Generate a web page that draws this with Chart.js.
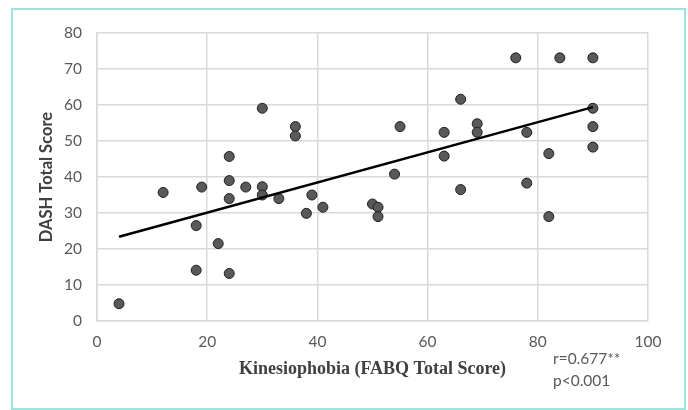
<!DOCTYPE html>
<html>
<head>
<meta charset="utf-8">
<script src="https://cdn.jsdelivr.net/npm/chart.js@4"></script>
<style>
  html, body { margin: 0; padding: 0; background: #fff; }
  #wrap { position: relative; width: 688px; height: 410px; }
  #frame {
    position: absolute; left: 11px; top: 8px; width: 671px; height: 398px;
    border: 2px solid #9fe3e0; border-bottom-width: 4px; pointer-events: none;
  }
  #stats {
    position: absolute; left: 553px; top: 347px;
    font: 15.5px Lato, "Liberation Sans", sans-serif; color: #595959; line-height: 22px;
  }
</style>
</head>
<body>
<div id="wrap">
  <canvas id="chart" width="688" height="410"></canvas>
  <div id="frame"></div>
  <div id="stats">r=0.677**<br>p&lt;0.001</div>
</div>
<script>
// FABQ (x) vs DASH (y)
const fabq = [4, 12, 18, 18, 19, 22, 24, 24, 24, 24, 27, 30, 30, 30, 33, 36, 36, 38, 39, 41,
              50, 51, 51, 54, 55, 63, 63, 66, 66, 69, 69, 76, 78, 78, 82, 82, 84, 90, 90, 90, 90];
const dash = [4.8, 35.7, 26.5, 14.1, 37.2, 21.5, 45.7, 39, 34, 13.2, 37.2, 59.1, 37.3, 35, 34, 54, 51.4, 29.9, 35, 31.6,
              32.5, 31.6, 29, 40.8, 54, 52.4, 45.8, 61.6, 36.5, 54.8, 52.4, 73.1, 52.4, 38.3, 46.5, 29, 73.1, 73.1, 59.1, 54, 48.3];
// linear trend line end points
const trendX = [4, 90];
const trendY = [23.4, 59.4];

const xTicks = [0, 20, 40, 60, 80, 100];
const yTicks = [0, 10, 20, 30, 40, 50, 60, 70, 80];

const tickFont = { family: 'Lato, "Liberation Sans", sans-serif', size: 15.5 };

new Chart(document.getElementById('chart'), {
    type: 'scatter',
    data: {
        datasets: [{
            label: 'Trend',
            type: 'line',
            data: trendX.map((x, i) => ({ x: x, y: trendY[i] })),
            borderColor: '#000',
            borderWidth: 2.5,
            pointRadius: 0,
            fill: false,
            order: 0
        }, {
            label: 'Patients',
            data: fabq.map((x, i) => ({ x: x, y: dash[i] })),
            backgroundColor: '#595959',
            borderColor: '#1f1f1f',
            borderWidth: 1,
            pointRadius: 5,
            order: 1
        }]
    },
    options: {
        responsive: false,
        animation: false,
        layout: { padding: { left: 0, right: 40, top: 33, bottom: 0 } },
        plugins: { legend: { display: false }, tooltip: { enabled: false } },
        scales: {
            x: {
                type: 'linear', min: 0, max: 100,
                afterBuildTicks: s => { s.ticks = xTicks.map(v => ({ value: v })); },
                afterFit: s => { s.height = 89; },
                grid: { color: '#d9d9d9', lineWidth: 1.5, drawTicks: false },
                border: { color: '#d9d9d9', width: 1.5 },
                ticks: { color: '#595959', font: tickFont, padding: 12, maxRotation: 0 },
                title: {
                    display: true,
                    text: 'Kinesiophobia (FABQ Total Score)',
                    color: '#404040',
                    font: { family: '"Liberation Serif", "Times New Roman", serif', size: 18, weight: 'bold' },
                    padding: { top: 0, bottom: 30 }
                }
            },
            y: {
                type: 'linear', min: 0, max: 80,
                afterBuildTicks: s => { s.ticks = yTicks.map(v => ({ value: v })); },
                afterFit: s => { s.width = 97; },
                grid: { color: '#d9d9d9', lineWidth: 1.5, drawTicks: false },
                border: { color: '#d9d9d9', width: 1.5 },
                ticks: { color: '#595959', font: tickFont, padding: 15 },
                title: {
                    display: true,
                    text: 'DASH Total Score',
                    color: '#404040',
                    font: { family: 'Lato, "Liberation Sans", sans-serif', size: 16.5, weight: 'bold' },
                    padding: { top: 37, bottom: 0 }
                }
            }
        }
    }
});
</script>
</body>
</html>
